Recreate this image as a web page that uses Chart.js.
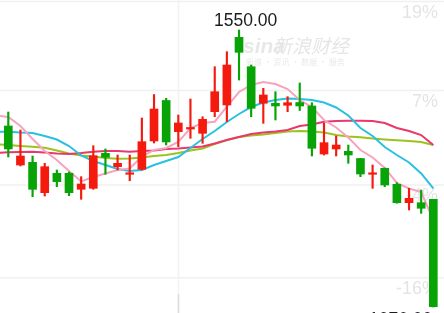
<!DOCTYPE html>
<html><head><meta charset="utf-8">
<script src="https://cdn.jsdelivr.net/npm/chart.js@4.4.0/dist/chart.umd.min.js"></script>
<style>html,body{margin:0;padding:0;background:#fff;overflow:hidden}#wrap{width:444px;height:313px;position:relative}</style>
</head><body><div id="wrap"><canvas id="c" width="444" height="313"></canvas></div>
<script>
// trading days (index 0 = day before first visible candle, used only for the MA lines)
const days = ['D0','D1','D2','D3','D4','D5','D6','D7','D8','D9','D10','D11','D12','D13','D14','D15','D16','D17','D18','D19','D20','D21','D22','D23','D24','D25','D26','D27','D28','D29','D30','D31','D32','D33','D34','D35','D36'];
// candles (days D1..D36)
const openP  = [1385.7,1319.0,1323.6,1271.6,1304.8,1304.8,1277.4,1279.1,1339.0,1316.1,1303.1,1311.6,1360.1,1429.4,1376.0,1380.6,1373.2,1410.2,1421.7,1537.5,1487.2,1424.6,1424.6,1421.2,1425.9,1420.0,1337.8,1346.4,1342.4,1330.1,1303.1,1313.3,1285.9,1254.5,1254.5,1260.3];
const highP  = [1409.7,1378.9,1334.4,1321.9,1310.4,1307.0,1299.0,1352.0,1346.4,1336.1,1336.1,1399.4,1439.6,1433.1,1404.5,1431.9,1401.6,1487.2,1512.9,1550.0,1490.1,1450.2,1444.4,1435.9,1459.3,1425.6,1390.3,1368.6,1353.2,1330.5,1319.0,1313.9,1288.7,1279.1,1276.2,1260.3];
const lowP   = [1332.7,1317.3,1264.7,1265.9,1281.9,1266.5,1260.3,1277.4,1303.1,1310.4,1292.1,1310.4,1356.6,1353.2,1350.3,1364.7,1356.1,1401.6,1393.1,1464.4,1401.6,1390.3,1396.0,1410.2,1412.2,1334.4,1336.1,1334.4,1321.9,1299.0,1279.1,1281.9,1253.5,1242.0,1236.3,1076.0];
const closeP = [1346.4,1334.4,1277.4,1316.1,1290.4,1271.6,1286.5,1334.9,1332.2,1321.9,1304.8,1358.9,1414.8,1358.4,1390.9,1383.2,1397.2,1444.4,1490.1,1511.8,1416.0,1438.8,1420.0,1425.6,1420.0,1347.6,1357.2,1353.2,1336.1,1303.6,1304.8,1284.8,1254.5,1262.0,1244.9,1076.5];
// moving averages (days D0..D36)
const ma5  = [1403.7,1401.1,1385.7,1363.5,1343.0,1327.6,1308.7,1290.8,1298.5,1304.5,1310.4,1313.0,1333.5,1344.7,1348.1,1358.4,1382.3,1390.9,1393.1,1418.8,1443.9,1455.9,1461.0,1457.6,1449.0,1430.2,1418.2,1396.0,1383.2,1366.1,1344.7,1331.8,1313.9,1288.2,1278.8,1272.8,1224.9];
const ma10 = [1376.0,1376.0,1374.6,1373.8,1368.6,1362.6,1351.5,1335.3,1325.8,1319.0,1312.2,1308.7,1310.4,1319.0,1325.8,1332.7,1348.1,1363.5,1377.2,1392.6,1406.3,1418.2,1425.9,1430.2,1432.8,1431.9,1430.2,1425.9,1417.4,1403.7,1382.3,1368.6,1349.8,1336.1,1323.3,1304.5,1279.1];
const ma20 = [1354.4,1353.2,1351.5,1350.3,1348.6,1343.8,1338.7,1335.3,1333.5,1331.0,1329.8,1330.1,1331.8,1334.4,1336.1,1339.5,1343.8,1347.2,1354.9,1361.8,1366.9,1369.5,1371.2,1373.8,1376.3,1377.2,1376.3,1374.6,1370.3,1367.8,1366.4,1364.3,1362.6,1361.3,1360.1,1358.4,1353.2];
const ma60 = [1339.7,1340.7,1341.2,1341.8,1340.4,1338.7,1337.8,1339.5,1341.8,1343.0,1343.0,1341.8,1343.0,1343.8,1346.4,1347.2,1348.9,1350.7,1355.8,1361.8,1366.9,1372.0,1374.6,1376.3,1378.9,1385.7,1388.3,1393.1,1394.3,1394.8,1394.6,1394.3,1390.9,1382.3,1377.2,1370.3,1353.2];
// right-hand percentage ticks and the price levels of their grid lines
const pctLabels = ['19%','7%','-4%','-16%'];
const pctPrices = [1598.8,1446.5,1284.8,1126.2];
const monthStartDay = 'D15';
const highLabel = '1550.00';
const lowLabel = '1076.00';

const UP = '#f41a0e', DOWN = '#07a307';
const candleX = i => i + 1; // D1 -> x=1
const candleColor = closeP.map((c, i) => c >= openP[i] ? UP : DOWN);

const bgPlugin = {
  id: 'bg',
  beforeDraw(chart) {
    const ctx = chart.ctx; ctx.save(); ctx.fillStyle = '#fff'; ctx.fillRect(0, 0, chart.width, chart.height); ctx.restore();
  },
  beforeDatasetsDraw(chart) {
    const ctx = chart.ctx, xs = chart.scales.x, ys = chart.scales.y;
    ctx.save();
    ctx.strokeStyle = '#f0f0f0'; ctx.lineWidth = 1.5;
    pctPrices.forEach(p => { const y = ys.getPixelForValue(p); ctx.beginPath(); ctx.moveTo(0, y); ctx.lineTo(chart.width, y); ctx.stroke(); });
    const vx = Math.round(xs.getPixelForValue(days.indexOf(monthStartDay))) + 0.5;
    ctx.strokeStyle = '#f2f2f2'; ctx.lineWidth = 1.5;
    ctx.beginPath(); ctx.moveTo(vx, 0); ctx.lineTo(vx, chart.height); ctx.stroke();
    ctx.strokeStyle = '#dddddd';
    ctx.beginPath(); ctx.moveTo(vx, 294); ctx.lineTo(vx, chart.height); ctx.stroke();
    // percentage labels
    ctx.fillStyle = '#e4e4e4'; ctx.font = '18px "Liberation Sans", Arial, sans-serif';
    ctx.textAlign = 'right'; ctx.textBaseline = 'alphabetic';
    pctLabels.forEach((t, k) => { const y = ys.getPixelForValue(pctPrices[k]); ctx.fillText(t, 438, y + 16.5); });
    // watermark
    ctx.textAlign = 'left';
    ctx.fillStyle = '#e8e8e8';
    ctx.font = 'italic bold 21px "Liberation Sans", Arial, sans-serif';
    ctx.fillText('sina', 243, 53);
    ctx.font = 'italic 19px "Noto Sans CJK SC", sans-serif';
    ctx.fillStyle = '#e6e6e6';
    ctx.fillText('新浪财经', 273, 53);
    ctx.font = '8px "Noto Sans CJK SC", sans-serif';
    ctx.fillStyle = '#e9e9e9';
    ctx.fillText('新浪 · 资讯 · 数据 · 服务', 246, 65);
    ctx.restore();
  },
  afterDatasetsDraw(chart) {
    const ctx = chart.ctx, xs = chart.scales.x, ys = chart.scales.y;
    const hi = highP.indexOf(Math.max(...highP));
    const lo = lowP.indexOf(Math.min(...lowP));
    ctx.save();
    ctx.fillStyle = '#1c1c1c'; ctx.font = '17.5px "Liberation Sans", Arial, sans-serif';
    ctx.textBaseline = 'alphabetic';
    ctx.textAlign = 'left';
    ctx.fillText(highLabel, xs.getPixelForValue(candleX(hi)) - 25, ys.getPixelForValue(highP[hi]) - 4.3);
    ctx.textAlign = 'right';
    ctx.fillText(lowLabel, xs.getPixelForValue(candleX(lo)) - 1, ys.getPixelForValue(lowP[lo]) + 17.5);
    ctx.restore();
  }
};

const lineDs = (data, color, order) => ({
  type: 'line', data: data.map((v, i) => ({ x: i, y: v })), borderColor: color, borderWidth: 2,
  pointRadius: 0, tension: 0, fill: false, order
});

new Chart(document.getElementById('c'), {
  data: {
    datasets: [
      { type: 'bar', data: openP.map((o, i) => ({ x: candleX(i), y: [o, closeP[i]] })), backgroundColor: candleColor, barThickness: 8, grouped: false, minBarLength: 1.5, order: 0 },
      { type: 'bar', data: lowP.map((l, i) => ({ x: candleX(i), y: [l, highP[i]] })), backgroundColor: candleColor, barThickness: 1.5, grouped: false, order: 1 },
      lineDs(ma5, '#f7a3c0', 2),
      lineDs(ma10, '#28c1e0', 3),
      lineDs(ma60, '#e8386c', 4),
      lineDs(ma20, '#9dc21e', 5)
    ]
  },
  options: {
    responsive: false, animation: false, events: [],
    layout: { padding: 0 },
    plugins: { legend: { display: false }, tooltip: { enabled: false } },
    scales: {
      x: { type: 'linear', display: false, offset: false, min: 0.317, max: 36.88 },
      y: { type: 'linear', display: false, min: 1065.74, max: 1601.34 }
    }
  },
  plugins: [bgPlugin]
});
</script></body></html>
